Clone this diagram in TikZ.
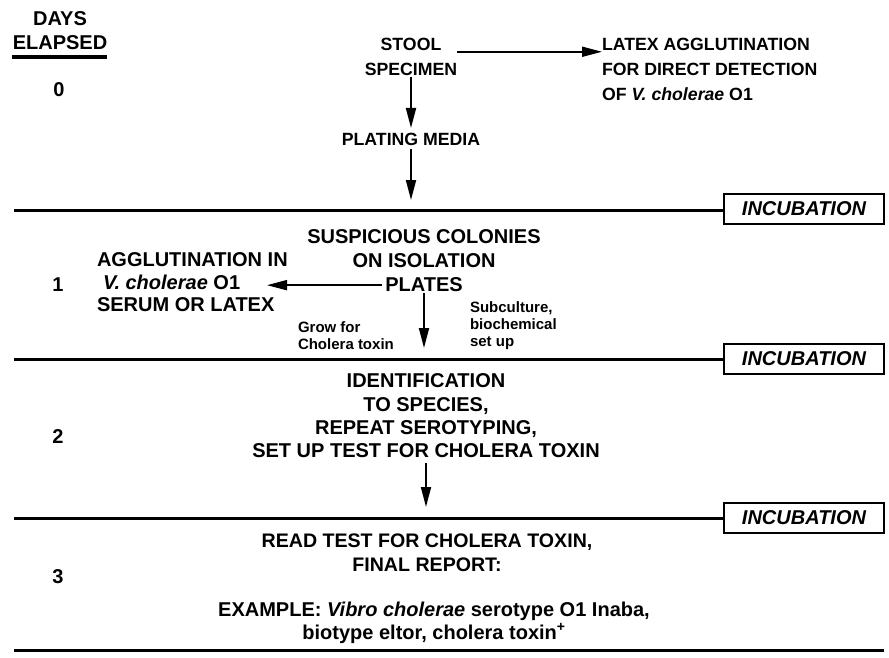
\documentclass[tikz,border=0pt]{standalone}
\usepackage{fontspec}
\setmainfont{Liberation Sans}
\usetikzlibrary{arrows.meta,calc}
\begin{document}
\begin{tikzpicture}[x=1pt,y=-1pt,
  txt/.style={inner sep=0pt,outer sep=0pt,font=\bfseries\fontsize{20}{23.5}\selectfont},
  toptxt/.style={inner sep=0pt,outer sep=0pt,font=\bfseries\fontsize{17.7}{25}\selectfont},
  smalltxt/.style={inner sep=0pt,outer sep=0pt,font=\bfseries\fontsize{15}{17}\selectfont},
  incbox/.style={draw,line width=2.5pt,minimum width=160pt,minimum height=30pt,inner sep=0pt,
     font=\bfseries\itshape\fontsize{20}{24}\selectfont},
  rule/.style={line width=3pt},
  arr/.style={line width=1.8pt,-{Triangle[length=20pt,width=10pt]}}
]
\useasboundingbox (0,0) rectangle (889,658);

% header
\node[txt,anchor=north,align=center] (days) at (60,12) {DAYS\\ELAPSED};
\draw[line width=3.5pt] (12,57) -- (107,57);

% day labels
\node[txt,anchor=north] (d0) at (59,83) {0};
\node[txt,anchor=north] (d1) at (58,278) {1};
\node[txt,anchor=north] (d2) at (58,430) {2};
\node[txt,anchor=north] (d3) at (58,570) {3};

% day 0
\node[toptxt,anchor=north,align=center] (stool) at (411,38) {STOOL\\SPECIMEN};
\node[toptxt,anchor=north west,align=left] (latex) at (602,38)
  {LATEX AGGLUTINATION\\FOR DIRECT DETECTION\\OF \textit{V. cholerae} O1};
\node[toptxt,anchor=north] (plating) at (411,133) {PLATING MEDIA};

% incubation boxes and rules
\node[incbox] (inc1) at (804,209) {INCUBATION};
\node[incbox] (inc2) at (804,359) {INCUBATION};
\node[incbox] (inc3) at (804,518) {INCUBATION};
\coordinate (L1) at (14,210);
\coordinate (L2) at (14,359);
\coordinate (L3) at (14,518);
\coordinate (L4a) at (14,650);
\coordinate (L4b) at (884,650);
\draw[rule] (L1) -- (L1 -| inc1.west);
\draw[rule] (L2) -- (L2 -| inc2.west);
\draw[rule] (L3) -- (L3 -| inc3.west);
\draw[rule] (L4a) -- (L4b);

% day 1
\node[txt,anchor=north,align=center,font=\bfseries\fontsize{20}{24}\selectfont] (susp) at (424,230)
  {SUSPICIOUS COLONIES\\ON ISOLATION\\PLATES};
\node[txt,anchor=north west,align=left,font=\bfseries\fontsize{20}{22.5}\selectfont] (agg) at (97,253)
  {AGGLUTINATION IN\\\hspace*{6pt}\textit{V. cholerae} O1\\SERUM OR LATEX};
\node[smalltxt,anchor=north west,align=left] (grow) at (298,322) {Grow for\\Cholera toxin};
\node[smalltxt,anchor=north west,align=left] (sub) at (470,302) {Subculture,\\biochemical\\set up};

% day 2
\node[txt,anchor=north,align=center,font=\bfseries\fontsize{20}{23.2}\selectfont] (ident) at (426,374)
  {IDENTIFICATION\\TO SPECIES,\\REPEAT SEROTYPING,\\SET UP TEST FOR CHOLERA TOXIN};

% day 3
\node[txt,anchor=north,align=center,font=\bfseries\fontsize{19.6}{24}\selectfont] (read) at (427,534)
  {READ TEST FOR CHOLERA TOXIN,\\FINAL REPORT:};
\node[txt,anchor=north,align=center,font=\bfseries\fontsize{20}{23}\selectfont] (example) at (434,602)
  {EXAMPLE: \textit{Vibro cholerae} serotype O1 Inaba,\\biotype eltor, cholera toxin\textsuperscript{+}};

% connectors
\draw[arr] ([yshift=5pt]stool.east) -- ([yshift=5pt]stool.east -| latex.west);
\draw[arr,shorten <=1.5pt,shorten >=5pt] (stool.south) -- (plating.north);
\draw[arr,shorten <=3pt,shorten >=10pt] (plating.south) -- (plating.south |- L1);
\draw[arr] ($(susp.south)+(-42,-7)$) -- ($(susp.south -| agg.west)+(170,-7)$);
\draw[arr,shorten <=1pt,shorten >=11pt] (susp.south) -- (susp.south |- L2);
\draw[arr,shorten <=5pt,shorten >=11pt] (ident.south) -- (ident.south |- L3);
\end{tikzpicture}
\end{document}
